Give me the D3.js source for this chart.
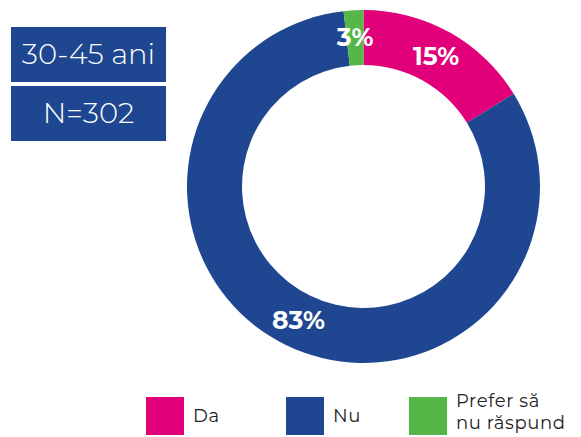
<!DOCTYPE html>
<html>
<head>
<meta charset="utf-8">
<script src="https://cdn.jsdelivr.net/npm/d3@7"></script>
<style>
body { margin: 0; background: #fff; }
svg { display: block; font-family: "Montserrat", "Inter", "Open Sans", sans-serif; }
</style>
</head>
<body>
<script>
var w = 581;
var h = 437;

// data
var categories = ["Da", "Nu", "Prefer să nu răspund"];
var values = [16.2, 82, 1.8];
var labels = ["15%", "83%", "3%"];
var colors = ["#e2007a", "#1f4791", "#55b748"];
var boxTexts = ["30-45 ani", "N=302"];

var svg = d3.select("body").append("svg")
    .attr("width", w)
    .attr("height", h);

// title boxes
var boxes = svg.selectAll(".box")
    .data(boxTexts)
    .enter().append("g")
    .attr("transform", function(d, i) { return "translate(11," + (27 + i * 59) + ")"; });
boxes.append("rect")
    .attr("width", 155)
    .attr("height", 55)
    .attr("fill", "#1f4791");
boxes.append("text")
    .attr("x", 77.5)
    .attr("y", 37)
    .attr("text-anchor", "middle")
    .attr("fill", "#fff")
    .style("font-size", "29px")
    .style("font-weight", 300)
    .text(function(d) { return d; });

// donut
var cx = 363.5, cy = 186.5;
var pie = d3.pie().sort(null).value(function(d) { return d; });
var arc = d3.arc().innerRadius(121.5).outerRadius(176.5);
var arcs = pie(values);

var g = svg.append("g").attr("transform", "translate(" + cx + "," + cy + ")");
g.selectAll("path")
    .data(arcs)
    .enter().append("path")
    .attr("d", arc)
    .attr("fill", function(d, i) { return colors[i]; });

g.selectAll(".lbl")
    .data(arcs)
    .enter().append("text")
    .attr("class", "lbl")
    .attr("transform", function(d) { return "translate(" + arc.centroid(d) + ")"; })
    .attr("dy", "0.35em")
    .attr("text-anchor", "middle")
    .attr("fill", "#fff")
    .style("font-size", "25px")
    .style("font-weight", 700)
    .text(function(d, i) { return labels[i]; });

// legend
var legX = [146, 286, 409];
var leg = svg.selectAll(".leg")
    .data(categories)
    .enter().append("g")
    .attr("transform", function(d, i) { return "translate(" + legX[i] + ",397)"; });
leg.append("rect")
    .attr("width", 38)
    .attr("height", 38)
    .attr("fill", function(d, i) { return colors[i]; });
leg.each(function(d) {
    var parts = d.length > 10 ? ["Prefer să", "nu răspund"] : [d];
    var y0 = parts.length > 1 ? 10 : 25;
    var gg = d3.select(this);
    parts.forEach(function(p, k) {
        gg.append("text")
            .attr("x", 47)
            .attr("y", y0 + k * 22)
            .attr("fill", "#222")
            .style("font-size", "18px")
            .style("letter-spacing", "0.6px")
            .text(p);
    });
});
</script>
</body>
</html>
